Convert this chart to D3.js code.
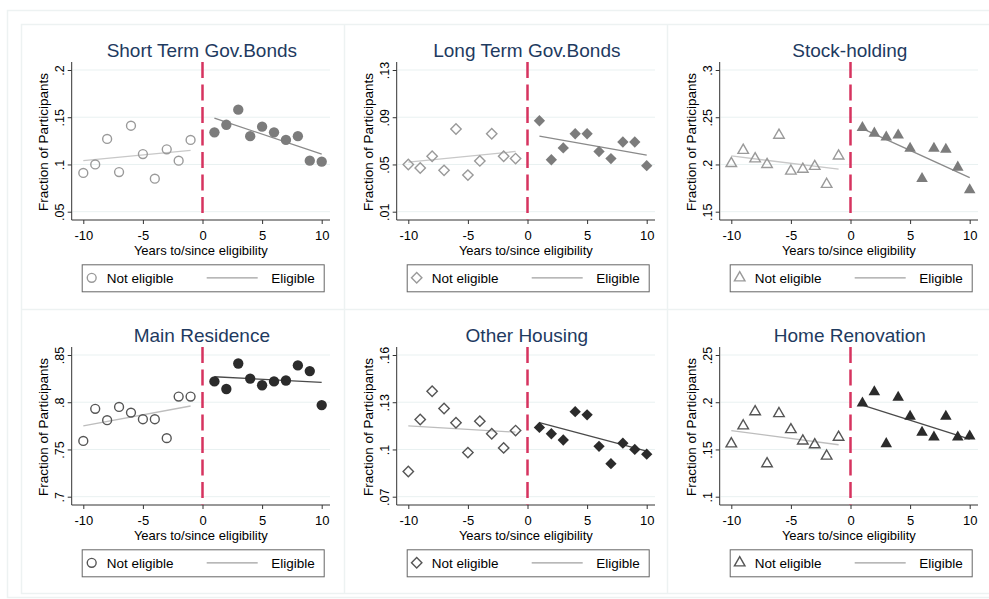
<!DOCTYPE html>
<html>
<head>
<meta charset="utf-8">
<script src="https://cdn.jsdelivr.net/npm/d3@7"></script>
<style>
  body { margin: 0; background: #fff; }
  svg { display: block; font-family: "Liberation Sans", Arial, sans-serif; }
</style>
</head>
<body>
<svg id="chart" width="989" height="599"></svg>
<script>
// ---- data ----
const panelTitles = ["Short Term Gov.Bonds", "Long Term Gov.Bonds", "Stock-holding",
                     "Main Residence", "Other Housing", "Home Renovation"];
const markerShapes = ["circle", "diamond", "triangle", "circle", "diamond", "triangle"];

const notEligYears = [-10, -9, -8, -7, -6, -5, -4, -3, -2, -1];
const eligYears = [1, 2, 3, 4, 5, 6, 7, 8, 9, 10];

const xTickValues = [-10, -5, 0, 5, 10];
const xTickLabels = ["-10", "-5", "0", "5", "10"];

const yTickValues = [
  [0.05, 0.10, 0.15, 0.20],
  [0.01, 0.05, 0.09, 0.13],
  [0.15, 0.20, 0.25, 0.30],
  [0.70, 0.75, 0.80, 0.85],
  [0.07, 0.10, 0.13, 0.16],
  [0.10, 0.15, 0.20, 0.25]
];
const yTickLabels = [
  [".05", ".1", ".15", ".2"],
  [".01", ".05", ".09", ".13"],
  [".15", ".2", ".25", ".3"],
  [".7", ".75", ".8", ".85"],
  [".07", ".1", ".13", ".16"],
  [".1", ".15", ".2", ".25"]
];

const notEligValues = [
  [0.091, 0.100, 0.127, 0.092, 0.141, 0.111, 0.085, 0.116, 0.104, 0.126],
  [0.050, 0.047, 0.057, 0.045, 0.080, 0.041, 0.053, 0.076, 0.057, 0.055],
  [0.201, 0.215, 0.206, 0.200, 0.231, 0.193, 0.195, 0.198, 0.179, 0.209],
  [0.759, 0.793, 0.781, 0.795, 0.789, 0.782, 0.782, 0.762, 0.806, 0.806],
  [0.086, 0.119, 0.137, 0.126, 0.117, 0.098, 0.118, 0.110, 0.101, 0.112],
  [0.156, 0.175, 0.190, 0.135, 0.188, 0.171, 0.159, 0.155, 0.143, 0.163]
];
const eligValues = [
  [0.134, 0.142, 0.158, 0.130, 0.140, 0.134, 0.126, 0.130, 0.104, 0.103],
  [0.087, 0.054, 0.064, 0.076, 0.076, 0.061, 0.055, 0.069, 0.069, 0.049],
  [0.239, 0.233, 0.229, 0.231, 0.217, 0.185, 0.217, 0.216, 0.197, 0.173],
  [0.822, 0.814, 0.841, 0.825, 0.818, 0.822, 0.823, 0.839, 0.833, 0.797],
  [0.114, 0.110, 0.106, 0.124, 0.122, 0.102, 0.091, 0.104, 0.100, 0.097],
  [0.199, 0.211, 0.156, 0.205, 0.185, 0.168, 0.163, 0.185, 0.163, 0.164]
];

// fitted lines, values at the two ends (x = -10 / -1 and x = 1 / 10)
const notEligFit = [
  [0.104, 0.115], [0.052, 0.061], [0.209, 0.195],
  [0.775, 0.796], [0.115, 0.111], [0.170, 0.155]
];
const eligFit = [
  [0.149, 0.111], [0.074, 0.058], [0.238, 0.186],
  [0.827, 0.821], [0.117, 0.099], [0.197, 0.161]
];

// ---- layout ----
const svg = d3.select("#chart");
const colOff = [0, 325, 648];
const rowOff = [0, 285];

const rowStyle = [
  { hollow: "#9a9a9a", filled: "#7c7c7c", fitNot: "#c8c8c8", fitElig: "#8a8a8a" },
  { hollow: "#555555", filled: "#2b2b2b", fitNot: "#bdbdbd", fitElig: "#4a4a4a" }
];

// background frames
svg.append("rect")
  .attr("x", 7.5).attr("y", 10.5).attr("width", 995).attr("height", 587)
  .attr("fill", "none").attr("stroke", "#edf2f2").attr("stroke-width", 1.5);
svg.append("rect")
  .attr("x", 21.5).attr("y", 24.5).attr("width", 975).attr("height", 569)
  .attr("fill", "none").attr("stroke", "#edf2f2").attr("stroke-width", 1.5);
[344.5, 667.5].forEach(x => svg.append("line")
  .attr("x1", x).attr("x2", x).attr("y1", 24).attr("y2", 594)
  .attr("stroke", "#edf2f2").attr("stroke-width", 1.5));
svg.append("line")
  .attr("x1", 21).attr("x2", 989).attr("y1", 309.5).attr("y2", 309.5)
  .attr("stroke", "#edf2f2").attr("stroke-width", 1.5);

function symbolPath(shape, filled) {
  if (shape === "circle") return d3.symbol(d3.symbolCircle, filled ? 84 : 62)();
  if (shape === "diamond") return d3.symbol(d3.symbolSquare, filled ? 64 : 54)();
  return d3.symbol(d3.symbolTriangle, filled ? 58 : 48)();
}

function drawMarker(g, shape, filled, color, x, y) {
  const m = g.append("path")
    .attr("d", symbolPath(shape, filled))
    .attr("transform", `translate(${x},${y})` + (shape === "diamond" ? " rotate(45)" : ""));
  if (filled) m.attr("fill", color).attr("stroke", "none");
  else m.attr("fill", "none").attr("stroke", color).attr("stroke-width", 1.4);
}

panelTitles.forEach((title, p) => {
  const ox = colOff[p % 3], oy = rowOff[Math.floor(p / 3)];
  const st = rowStyle[Math.floor(p / 3)];
  const shape = markerShapes[p];

  const left = 71.7 + ox, right = 330 + ox, top = 62 + oy, bottom = 220 + oy;
  const ticks = yTickValues[p];

  const x = d3.scaleLinear().domain([-10, 10]).range([83.3 + ox, 321.7 + ox]);
  const y = d3.scaleLinear().domain([ticks[0], ticks[ticks.length - 1]])
    .range([211.7 + oy, 70 + oy]);

  const g = svg.append("g");

  // title
  g.append("text")
    .attr("x", (left + right) / 2 + 1).attr("y", 56.7 + oy)
    .attr("text-anchor", "middle")
    .attr("font-size", 19).attr("fill", "#1e3a5f")
    .text(title);

  // grid lines
  g.selectAll(".grid").data(ticks).enter().append("line")
    .attr("x1", left + 1).attr("x2", right)
    .attr("y1", d => y(d)).attr("y2", d => y(d))
    .attr("stroke", "#e9f1f1").attr("stroke-width", 1);

  // y axis
  const gy = g.append("g")
    .attr("transform", `translate(${left},0)`)
    .call(d3.axisLeft(y).tickValues(ticks)
      .tickFormat((d, i) => yTickLabels[p][i])
      .tickSize(4).tickSizeOuter(0));
  gy.select(".domain").remove();
  gy.selectAll(".tick line").attr("stroke", "#333");
  gy.selectAll(".tick text")
    .attr("transform", "rotate(-90)")
    .attr("x", 0).attr("y", -8).attr("dy", 0)
    .attr("text-anchor", "middle")
    .attr("font-size", 12.5).attr("fill", "#000")
    .attr("font-family", "'Liberation Sans', Arial, sans-serif");

  // x axis
  const gx = g.append("g")
    .attr("transform", `translate(0,${bottom})`)
    .call(d3.axisBottom(x).tickValues(xTickValues)
      .tickFormat((d, i) => xTickLabels[i])
      .tickSize(4).tickSizeOuter(0).tickPadding(7));
  gx.select(".domain").remove();
  gx.selectAll(".tick line").attr("stroke", "#333");
  gx.selectAll(".tick text")
    .attr("font-size", 13).attr("fill", "#000")
    .attr("font-family", "'Liberation Sans', Arial, sans-serif");

  // axis lines
  g.append("line").attr("x1", left).attr("x2", left).attr("y1", top).attr("y2", bottom)
    .attr("stroke", "#333").attr("stroke-width", 1);
  g.append("line").attr("x1", left).attr("x2", right).attr("y1", bottom).attr("y2", bottom)
    .attr("stroke", "#333").attr("stroke-width", 1);

  // axis titles
  g.append("text")
    .attr("transform", `translate(${48 + ox},${(top + bottom) / 2 + 1}) rotate(-90)`)
    .attr("text-anchor", "middle").attr("font-size", 13.5).attr("fill", "#000")
    .text("Fraction of Participants");
  g.append("text")
    .attr("x", (left + right) / 2).attr("y", 255 + oy)
    .attr("text-anchor", "middle").attr("font-size", 13).attr("fill", "#000")
    .text("Years to/since eligibility");

  // eligibility cutoff
  g.append("line")
    .attr("x1", x(0)).attr("x2", x(0)).attr("y1", top).attr("y2", bottom)
    .attr("stroke", "#d6335f").attr("stroke-width", 2.5)
    .attr("stroke-dasharray", "16,6.5");

  // fitted lines
  g.append("line")
    .attr("x1", x(notEligYears[0])).attr("x2", x(notEligYears[notEligYears.length - 1]))
    .attr("y1", y(notEligFit[p][0])).attr("y2", y(notEligFit[p][1]))
    .attr("stroke", st.fitNot).attr("stroke-width", 1.3);
  g.append("line")
    .attr("x1", x(eligYears[0])).attr("x2", x(eligYears[eligYears.length - 1]))
    .attr("y1", y(eligFit[p][0])).attr("y2", y(eligFit[p][1]))
    .attr("stroke", st.fitElig).attr("stroke-width", 1.3);

  // markers
  notEligYears.forEach((yr, k) =>
    drawMarker(g, shape, false, st.hollow, x(yr), y(notEligValues[p][k])));
  eligYears.forEach((yr, k) =>
    drawMarker(g, shape, true, st.filled, x(yr), y(eligValues[p][k])));

  // legend
  const lx = 81.7 + ox, ly = 264.3 + oy;
  g.append("rect")
    .attr("x", lx + 0.5).attr("y", ly + 0.5).attr("width", 242).attr("height", 27)
    .attr("fill", "#fff").attr("stroke", "#666").attr("stroke-width", 1);
  drawMarker(g, shape, false, st.hollow, lx + 10, ly + 13.5);
  g.append("text").attr("x", lx + 25).attr("y", ly + 18.5)
    .attr("font-size", 13.5).attr("fill", "#000").text("Not eligible");
  g.append("line")
    .attr("x1", lx + 125).attr("x2", lx + 176).attr("y1", ly + 13.5).attr("y2", ly + 13.5)
    .attr("stroke", "#a0a0a0").attr("stroke-width", 1.3);
  g.append("text").attr("x", lx + 233).attr("y", ly + 18.5)
    .attr("text-anchor", "end")
    .attr("font-size", 13.5).attr("fill", "#000").text("Eligible");
});
</script>
</body>
</html>
